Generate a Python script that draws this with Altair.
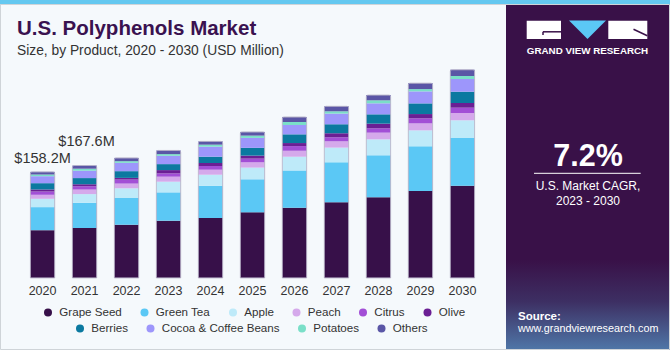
import altair as alt
import pandas as pd

# ---------------- data ----------------
years = [2020, 2021, 2022, 2023, 2024, 2025, 2026, 2027, 2028, 2029, 2030]
categories = ["Grape Seed", "Green Tea", "Apple", "Peach", "Citrus", "Olive",
              "Berries", "Cocoa & Coffee Beans", "Potatoes", "Others"]
colors = ["#371049", "#5BC8F5", "#BEEAF9", "#D5A9EB", "#A24FD6", "#6B1F94",
          "#0B79A0", "#9D96FB", "#7ADFC8", "#5A56A6"]

grape_seed = [71.3, 74.5, 79.4, 85.4, 89.4, 97.9, 104.7, 112.8, 120.2, 129.6, 137.5]
green_tea = [34.3, 37.5, 39.8, 42.2, 48.1, 49.2, 55.6, 59.6, 62.6, 66.6, 71.1]
apple = [12.4, 13.0, 14.5, 15.9, 16.4, 17.4, 20.4, 21.9, 23.8, 23.8, 26.4]
peach = [6.0, 6.8, 7.0, 7.5, 7.5, 7.9, 8.9, 9.4, 10.0, 10.4, 10.9]
citrus = [4.9, 4.9, 6.0, 4.9, 5.5, 5.5, 7.0, 6.0, 6.4, 7.5, 7.9]
olive = [3.0, 3.0, 2.5, 4.9, 4.5, 4.5, 4.5, 6.0, 7.0, 6.4, 7.0]
berries = [9.4, 9.2, 10.0, 8.9, 9.4, 11.5, 13.0, 13.4, 13.9, 15.9, 16.8]
cocoa_coffee = [10.4, 11.0, 12.4, 12.4, 14.9, 14.9, 13.9, 15.9, 16.4, 17.9, 18.9]
potatoes = [2.5, 3.0, 2.5, 2.5, 3.0, 3.4, 4.5, 3.4, 4.5, 3.4, 4.5]
others = [4.0, 4.7, 4.9, 5.5, 4.9, 5.5, 7.5, 7.5, 7.9, 8.9, 9.4]

series = [grape_seed, green_tea, apple, peach, citrus, olive,
          berries, cocoa_coffee, potatoes, others]

labelled_years = ["2020", "2021"]

rows = []
for i, (cat, vals) in enumerate(zip(categories, series)):
    for yr, v in zip(years, vals):
        rows.append({"year": str(yr), "product": cat, "value": v, "order": i})
df = pd.DataFrame(rows)

# ---------------- layout ----------------
W, H = 670, 350
LEFT, TOP = 22, 65
PW, PH = 461, 213
YMAX = 317.4
FONT = "Liberation Sans"
DARK = "#391148"
TXT = "#333333"


def px(x):
    return alt.value(x - LEFT)


def py(y):
    return alt.value(y - TOP)


one = alt.Data(values=[{"a": 1}])

x_enc = alt.X("year:N",
              scale=alt.Scale(paddingInner=0.42, paddingOuter=0.2),
              axis=alt.Axis(title=None, domain=False, ticks=False, labelAngle=0,
                            labelFontSize=12.5, labelColor=TXT, labelPadding=6,
                            labelFont=FONT, grid=False))
y_scale = alt.Scale(domain=[0, YMAX], nice=False, zero=True)

# top strip
strip = alt.Chart(one).mark_rect(color="#64C8F0").encode(
    x=px(0), x2=px(670), y=py(0), y2=py(4.5))

# right panel
panel = alt.Chart(one).mark_rect(
    fill=alt.LinearGradient(
        gradient="linear", x1=0, x2=0, y1=0, y2=1,
        stops=[alt.GradientStop(color=DARK, offset=0),
               alt.GradientStop(color=DARK, offset=0.74),
               alt.GradientStop(color="#3D2F63", offset=0.86),
               alt.GradientStop(color="#4F77A8", offset=1)])
).encode(x=px(506), x2=px(670), y=py(4.5), y2=py(350))

# logo
logo_left = alt.Chart(one).mark_rect(color="white").encode(
    x=px(526.7), x2=px(561), y=py(20.7), y2=py(39))
logo_right = alt.Chart(one).mark_rect(color="white").encode(
    x=px(608.3), x2=px(647.3), y=py(20.7), y2=py(39))
logo_tri = alt.Chart(one).mark_point(
    shape="M-1,-1L1,-1L0,0Z", filled=True, size=1369, color="#5BC8F5",
    opacity=1, strokeWidth=0).encode(x=px(587.5), y=py(39))
g_line1 = alt.Chart(one).mark_rule(color=DARK, strokeWidth=1.5).encode(
    x=px(543), x2=px(561), y=py(31.8), y2=py(31.8))
g_line2 = alt.Chart(one).mark_rule(color=DARK, strokeWidth=1.5).encode(
    x=px(543), x2=px(543), y=py(31.8), y2=py(35))
r_line = alt.Chart(one).mark_rule(color=DARK, strokeWidth=1.5).encode(
    x=px(633.5), x2=px(647.3), y=py(29.3), y2=py(35.7))
gvr_text = alt.Chart(one).mark_text(
    font=FONT, fontSize=9.8, fontWeight="bold", color="white",
    align="center", baseline="alphabetic").encode(
    x=px(587.5), y=py(53.5), text=alt.value("GRAND VIEW RESEARCH"))

cagr = alt.Chart(one).mark_text(
    font=FONT, fontSize=30.5, fontWeight="bold", color="white",
    align="center", baseline="alphabetic").encode(
    x=px(588), y=py(165.7), text=alt.value("7.2%"))
cagr_rule = alt.Chart(one).mark_rule(color="white", strokeWidth=1).encode(
    x=px(534), x2=px(640.7), y=py(173.3), y2=py(173.3))
cagr_t1 = alt.Chart(one).mark_text(
    font=FONT, fontSize=12, color="white", align="center",
    baseline="alphabetic").encode(
    x=px(588), y=py(190), text=alt.value("U.S. Market CAGR,"))
cagr_t2 = alt.Chart(one).mark_text(
    font=FONT, fontSize=12, color="white", align="center",
    baseline="alphabetic").encode(
    x=px(588), y=py(204.5), text=alt.value("2023 - 2030"))
src1 = alt.Chart(one).mark_text(
    font=FONT, fontSize=11.5, fontWeight="bold", color="white", align="left",
    baseline="alphabetic").encode(
    x=px(518), y=py(319.5), text=alt.value("Source:"))
src2 = alt.Chart(one).mark_text(
    font=FONT, fontSize=10.8, color="white", align="left",
    baseline="alphabetic").encode(
    x=px(518), y=py(332), text=alt.value("www.grandviewresearch.com"))

# title
title = alt.Chart(one).mark_text(
    font=FONT, fontSize=20.5, fontWeight="bold", color="#3A1250",
    align="left", baseline="alphabetic").encode(
    x=px(17), y=py(35), text=alt.value("U.S. Polyphenols Market"))
subtitle = alt.Chart(one).mark_text(
    font=FONT, fontSize=13.8, color=TXT, align="left",
    baseline="alphabetic").encode(
    x=px(17), y=py(55), text=alt.value("Size, by Product, 2020 - 2030 (USD Million)"))

# bars
bars = alt.Chart(df).mark_bar().encode(
    x=x_enc,
    y=alt.Y("value:Q", stack="zero", scale=y_scale, axis=None),
    color=alt.Color("product:N", scale=alt.Scale(domain=categories, range=colors),
                    legend=None),
    order=alt.Order("order:Q", sort="ascending"),
)

totals = alt.Chart(df).transform_aggregate(
    total="sum(value)", groupby=["year"]
)

outline = totals.mark_bar(
    fillOpacity=0, stroke="#B8B2C8", strokeWidth=1, strokeOpacity=0.7,
    cornerRadiusTopLeft=2, cornerRadiusTopRight=2
).encode(x=x_enc, y=alt.Y("total:Q", scale=y_scale, axis=None))

label_base = totals.transform_calculate(
    label='"$" + format(datum.total, ".1f") + "M"')

lab1 = label_base.transform_filter(
    alt.datum.year == labelled_years[0]).mark_text(
    font=FONT, fontSize=14.5, color=TXT, dy=-9, baseline="alphabetic",
    align="center").encode(x=x_enc, y=alt.Y("total:Q", scale=y_scale, axis=None),
                           text="label:N")
lab2 = label_base.transform_filter(
    alt.datum.year == labelled_years[1]).mark_text(
    font=FONT, fontSize=14.5, color=TXT, dy=-19.5, baseline="alphabetic",
    align="center", dx=2).encode(x=x_enc, y=alt.Y("total:Q", scale=y_scale, axis=None),
                                 text="label:N")

# legends (two centred rows)
row1, row2 = categories[:6], categories[6:]


def legend_layer(doms, rng, lx, ly):
    return alt.Chart(df).transform_filter("false").mark_circle(opacity=1).encode(
        color=alt.Color("product:N", scale=alt.Scale(domain=doms, range=rng),
                        legend=alt.Legend(orient="none", legendX=lx - LEFT,
                                          legendY=ly - TOP, direction="horizontal",
                                          title=None, symbolType="circle",
                                          symbolSize=64, symbolStrokeWidth=0,
                                          labelFontSize=11.6, labelColor=TXT,
                                          labelFont=FONT, labelOffset=5.5,
                                          columnPadding=16.5, symbolOpacity=1)))


leg1 = legend_layer(row1, colors[:6], 42.2, 306.5)
leg2 = legend_layer(row2, colors[6:], 74.2, 322.5)

frame = alt.Chart(one).mark_rect(fillOpacity=0, stroke="#CFD4D8", strokeWidth=1).encode(
    x=px(0.5), x2=px(669.5), y=py(4.5), y2=py(349.5))

chart = alt.layer(
    strip, panel, frame, logo_left, logo_right, logo_tri, g_line1, g_line2, r_line,
    gvr_text, cagr, cagr_rule, cagr_t1, cagr_t2, src1, src2, title, subtitle,
    bars, outline, lab1, lab2, leg1, leg2
).resolve_scale(color="independent").properties(
    width=PW, height=PH,
    padding={"left": LEFT, "top": TOP, "right": W - LEFT - PW, "bottom": H - TOP - PH},
    autosize=alt.AutoSizeParams(type="none"),
    background="#F5F9FC",
).configure_view(strokeWidth=0)

chart.save("out.html", embed_options={"renderer": "svg", "actions": False})
